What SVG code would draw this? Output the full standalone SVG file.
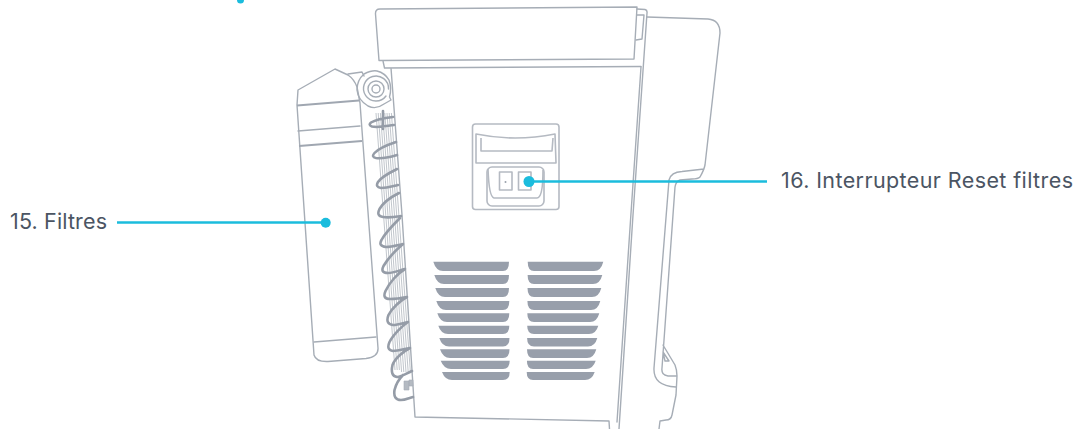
<svg xmlns="http://www.w3.org/2000/svg" width="1081" height="429" viewBox="0 0 1081 429">
<style>
.o{fill:none;stroke:#a6adb6;stroke-width:1.4;stroke-linejoin:round;stroke-linecap:round}
.p{fill:none;stroke:#b5bac2;stroke-width:1.6;stroke-linejoin:round}
.b{fill:none;stroke:#a0a7b1;stroke-width:2.2}
.c{fill:none;stroke:#959ca7;stroke-width:2.6;stroke-linecap:round;stroke-linejoin:round}
.h{fill:none;stroke:#a6adb6;stroke-width:.7}
.v{fill:#989fab}
.l{fill:none;stroke:#1bbcdd;stroke-width:2.5}
.d{fill:#1bbcdd}
.t{font-family:"Inter","Open Sans",sans-serif;font-size:21.5px;fill:#4b5563}
</style>
<g id="body">
<path class="o" d="M379 60.500L375.500 14Q375.200 9 380 9L637 7L634 59L379 60.500M383 61L384.500 68L641 66.500M391 68L402 215L415 417L609 421L609.500 429"/>
<path class="o" d="M641 67L631 213L617 422M637 9L645 9.500Q647.500 10 647 13L633 215L619 429M637 15L644 15L642 39L636 40"/>
<path class="o" d="M647 17L708 19Q720 20 720 33L705 165Q704 170 700 177Q698 179 692 179L680 180Q676 181 675 187L662 368Q661 375 668 376L677 376M704 169L682 171.500Q671 172 669 180L654 368Q653 386 676 387M663 345L675 365Q677 370 677 376L676 395L672 415Q671 420 666 420L660 421L659 429M663 352L669 361L665 361Z"/>
</g>
<g id="filter">
<path class="o" d="M298 90L335 69L348 75Q354 79 357 87L360 103L378 348Q378.500 357 366 358.500L328 361.500Q316 362 314 355L297 105Z"/>
<path class="o" d="M314 342L376 337M298 131L360 126"/>
<path class="b" d="M297 105.500L359 100.500M299 146L362 141"/>
<path class="o" d="M348 74L362 72L364 76"/>
</g>
<g id="coil">
<path class="h" d="M376 113L395 370M378.200 113L397.200 370M380.400 113L399.400 370M382.600 113L401.600 372M384.800 113L403.800 372M387 113L406 372M389.200 113L408.200 372M391.400 113L410.400 372"/>
<path class="c" d="M383 111V129M393 117C384 118 375 120 371 122.500Q368 125 372 126.500C378 128 386 126 394 125M396 142C387 145 379 148 374.500 153Q371 157 376 158C384 159 390 157 397 155M397 169C389 173 381 177 378 182Q375 187 381 188C388 188 393 186 398 185M399 193C391 197 383 203 379.500 209Q376 216 383 217C390 218 395 217 401 216M400 218C393 225 385 233 381.500 240Q378 246 386 247C392 247 398 245 403 244C396 250 387 260 383.500 266Q380 273 388 273C394 273 400 270 405 269C398 273 389 283 385.500 291Q382 299 390 299C396 299 402 298 407 297C401 300 392 308 388.500 315Q385 324 393 325C398 325 403 323 408 322C402 326 393 335 389.500 342Q386 350 393 351C398 351 404 349 410 348C404 351 395 358 392.500 365Q390 376 397 377C402 377 407 373 412 371M403 375C399 379 396 384 394.500 390Q393 400 401 400C405 400 409 398 413 397"/>
<path d="M404 381H409V390H404Z M409 380H413V386H409Z" fill="#b4bac2" stroke="#a6adb6" stroke-width=".6"/>
</g>
<g id="valve">
<circle class="o" cx="376" cy="89" r="4"/>
<circle class="o" cx="376" cy="89" r="8"/>
<path class="o" d="M386 96A12.500 12.500 0 1 1 388.500 89"/>
<path class="o" d="M364 74Q372 70 377 71Q385 73 389 80Q392 88 389.500 97L391 100L384 104Q376 110 368 106Q358 100 357 90Q357 80 364 74"/>
</g>
<g id="panel">
<rect class="p" x="472.500" y="124" width="86.500" height="85.500" rx="3"/>
<path class="p" d="M476 134Q515 142 555 134L556 163H476ZM481 138V151H552L553 138"/>
<rect class="p" x="487" y="167" width="57" height="39" rx="5"/>
<path class="p" d="M488 169Q489 197 494 198H537Q543 198 543 170"/>
<rect class="p" x="499.500" y="172" width="12.500" height="18" fill="#eceef0"/>
<rect class="p" x="518.500" y="172" width="12.500" height="18" fill="#eceef0"/>
<circle cx="505.500" cy="182" r="1" fill="#9aa1ab"/>
</g>
<g id="vents">
<path class="v" d="M433.300 261.700H509Q509 271 503 271H443Q436 271 433.300 261.700ZM434.300 275H509Q509 284 503 284H444Q437 284 434.300 275ZM435.300 288H509Q509 297 503 297H445Q438 297 435.300 288ZM436.300 301H509.300Q509.300 310 503 310H446Q439 310 436.300 301ZM437.300 313.300H509.300Q509.300 322 503 322H447Q440 322 437.300 313.300ZM438.300 325.700H509.300Q509.300 334 503 334H448Q441 334 438.300 325.700ZM439.300 338H509.500Q509.500 346.500 503 346.500H449Q442 346.500 439.300 338ZM440 349.300H509.500Q509.500 358 503 358H450Q443 358 440 349.300ZM440.700 360.700H509.700Q509.700 369 503 369H451Q444 369 440.700 360.700ZM442 372H509.700Q509.700 380 503 380H452Q445 380 442 372Z"/>
<path class="v" d="M603.300 261.700H527.700Q527.700 271 534 271H594Q601 271 603.300 261.700ZM602.300 275H527.600Q527.600 284 534 284H593Q600 284 602.300 275ZM601.300 288H527.500Q527.500 297 534 297H592Q599 297 601.300 288ZM600.300 301H527.400Q527.400 310 534 310H591Q598 310 600.300 301ZM599.300 313.300H527.300Q527.300 322 534 322H590Q597 322 599.300 313.300ZM598.300 325.700H527.200Q527.200 334 534 334H589Q596 334 598.300 325.700ZM597.300 338H527.100Q527.100 346.500 534 346.500H588Q595 346.500 597.300 338ZM596.300 349.300H527Q527 358 533 358H587Q594 358 596.300 349.300ZM595.700 360.700H526.900Q526.900 369 533 369H586Q593 369 595.700 360.700ZM594.700 372H526.700Q526.700 380 533 380H585Q592 380 594.700 372Z"/>
</g>
<g id="connectors">
<path class="l" d="M117 222.500H325"/>
<circle class="d" cx="325.700" cy="222.700" r="5"/>
<path class="l" d="M529 181.500H767"/>
<circle class="d" cx="529" cy="181.500" r="5.500"/>
<circle class="d" cx="240.500" cy="0" r="3.500"/>
</g>
<g id="label-15"><text class="t" x="10" y="229.300" textLength="97">15. Filtres</text></g>
<g id="label-16"><text class="t" x="781" y="187.500" textLength="292">16. Interrupteur Reset filtres</text></g>
</svg>
